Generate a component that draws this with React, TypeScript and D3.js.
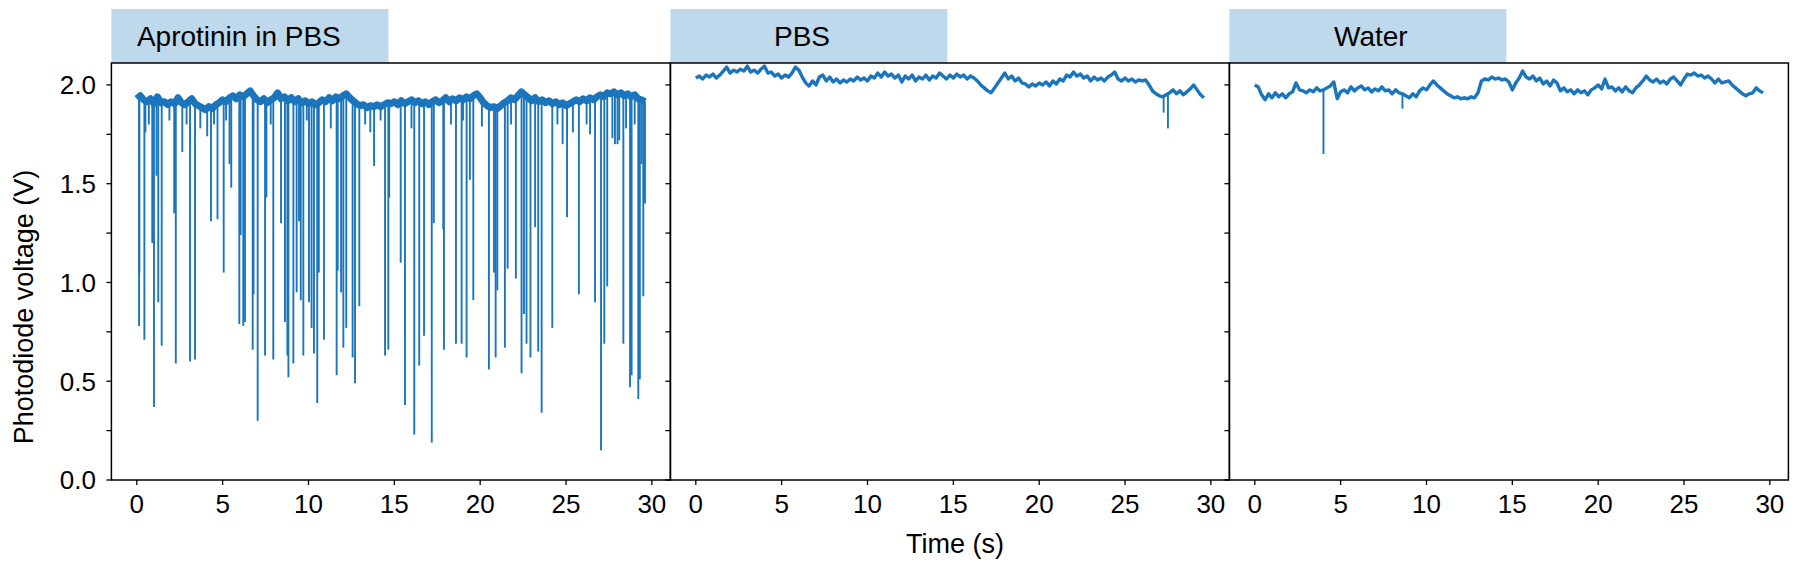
import React from 'react';
import * as d3 from 'd3';

const TIME_STEP = 0.2;
const panelTitles = ['Aprotinin in PBS', 'PBS', 'Water'];
const titleOffsets = [25.5, 103.6, 104.6];

const aprotininBase = [
  1.93, 1.945, 1.925, 1.915, 1.93, 1.905, 1.94, 1.91, 1.915, 1.9,
  1.915, 1.905, 1.935, 1.91, 1.9, 1.915, 1.93, 1.905, 1.895, 1.885,
  1.875, 1.89, 1.88, 1.9, 1.91, 1.925, 1.915, 1.935, 1.945, 1.93,
  1.95, 1.94, 1.955, 1.97, 1.945, 1.925, 1.915, 1.93, 1.91, 1.925,
  1.935, 1.96, 1.93, 1.94, 1.92, 1.935, 1.915, 1.93, 1.91, 1.92,
  1.905, 1.915, 1.9, 1.91, 1.925, 1.915, 1.935, 1.92, 1.94, 1.93,
  1.945, 1.955, 1.935, 1.92, 1.905, 1.895, 1.9, 1.885, 1.895, 1.89,
  1.9, 1.89, 1.9, 1.91, 1.905, 1.915, 1.9, 1.92, 1.905, 1.915,
  1.925, 1.91, 1.92, 1.905, 1.915, 1.9, 1.915, 1.925, 1.91, 1.92,
  1.935, 1.915, 1.93, 1.92, 1.935, 1.925, 1.94, 1.93, 1.945, 1.955,
  1.935, 1.91, 1.895, 1.885, 1.89, 1.88, 1.895, 1.91, 1.92, 1.935,
  1.925, 1.945, 1.965, 1.95, 1.935, 1.92, 1.935, 1.915, 1.925, 1.91,
  1.92, 1.905, 1.915, 1.9, 1.91, 1.895, 1.905, 1.915, 1.925, 1.915,
  1.93, 1.92, 1.935, 1.925, 1.94, 1.95, 1.94, 1.96, 1.955, 1.965,
  1.95, 1.96, 1.945, 1.955, 1.94, 1.95, 1.93, 1.925, 1.915,
];

const aprotininSpikes: [number, number][] = [
  [0.13, 0.78], [0.15, 1.05], [0.44, 0.71], [0.5, 1.76], [0.9, 1.2], [1.0, 0.37],
  [1.15, 1.54], [1.25, 0.9], [1.45, 0.68], [2.18, 1.35], [2.27, 0.59], [2.65, 1.66],
  [3.1, 0.6], [3.39, 0.61], [4.32, 1.31], [4.7, 1.32], [5.06, 1.05], [5.4, 1.6],
  [5.5, 1.48], [5.97, 0.79], [6.05, 1.24], [6.2, 0.78], [6.3, 0.8], [6.75, 0.66],
  [6.8, 0.94], [7.04, 0.3], [7.47, 0.63], [7.55, 1.43], [7.95, 0.61], [8.4, 1.3],
  [8.63, 0.8], [8.77, 0.63], [8.83, 0.52], [9.12, 0.59], [9.31, 0.95], [9.45, 1.31],
  [9.55, 0.91], [9.7, 0.63], [10.03, 0.9], [10.18, 0.77], [10.32, 0.64], [10.51, 0.39],
  [10.6, 1.05], [10.9, 0.71], [11.64, 0.53], [11.7, 1.06], [11.9, 0.95], [12.03, 0.67],
  [12.2, 0.77], [12.57, 0.62], [12.71, 0.49], [12.96, 0.88], [13.82, 1.59], [14.46, 0.63],
  [14.65, 0.66], [14.7, 1.43], [15.37, 1.1], [15.62, 0.38], [16.16, 0.23], [16.45, 0.58],
  [16.73, 0.73], [17.18, 0.19], [17.3, 1.3], [17.85, 1.27], [17.89, 0.66], [18.59, 0.69],
  [18.92, 0.69], [19.21, 0.62], [19.4, 1.52], [19.6, 0.91], [20.51, 0.56], [20.8, 1.05],
  [20.9, 0.62], [21.0, 0.96], [21.44, 0.67], [21.6, 1.07], [22.08, 1.02], [22.41, 0.54],
  [22.55, 0.84], [22.7, 0.69], [22.93, 0.62], [23.2, 1.28], [23.38, 0.65], [23.58, 0.34],
  [24.2, 0.77], [24.8, 1.7], [25.06, 1.33], [25.75, 0.94], [26.69, 0.9], [27.04, 0.15],
  [27.23, 0.69], [27.4, 0.98], [27.85, 1.7], [28.0, 1.7], [28.34, 0.69], [28.73, 0.47],
  [28.82, 0.53], [29.21, 0.41], [29.3, 0.51], [29.4, 1.6], [29.5, 0.93], [29.6, 1.4],
  // shallow dips near the baseline
  [0.7, 1.8], [1.9, 1.82], [2.9, 1.8], [3.7, 1.78], [4.1, 1.74], [4.5, 1.8],
  [5.2, 1.82], [7.8, 1.8], [9.9, 1.82], [11.3, 1.78], [13.3, 1.8], [13.6, 1.76],
  [14.2, 1.82], [16.0, 1.78], [18.3, 1.8], [19.0, 1.82], [20.1, 1.79], [21.8, 1.8],
  [24.5, 1.8], [25.4, 1.76], [26.2, 1.8], [26.4, 1.75], [27.7, 1.73], [28.1, 1.72],
  [28.5, 1.78], [29.0, 1.8],
];

const pbsBase = [
  2.035, 2.045, 2.03, 2.05, 2.04, 2.055, 2.035, 2.05, 2.07, 2.09,
  2.06, 2.075, 2.065, 2.08, 2.07, 2.095, 2.065, 2.075, 2.06, 2.08,
  2.095, 2.06, 2.065, 2.045, 2.055, 2.035, 2.05, 2.04, 2.06, 2.09,
  2.075, 2.04, 2.01, 1.995, 2.02, 2.0, 2.04, 2.05, 2.02, 2.04,
  2.015, 2.03, 2.01, 2.025, 2.015, 2.03, 2.02, 2.04, 2.025, 2.035,
  2.02, 2.045, 2.035, 2.06, 2.04, 2.065, 2.045, 2.055, 2.035, 2.05,
  2.015, 2.045, 2.03, 2.05, 2.02, 2.04, 2.03, 2.05, 2.025, 2.045,
  2.035, 2.06, 2.045, 2.03, 2.05, 2.035, 2.055, 2.04, 2.05, 2.03,
  2.045, 2.035, 2.02, 2.0, 1.985, 1.97, 1.96, 1.985, 2.01, 2.035,
  2.06, 2.03, 2.045, 2.02, 2.035, 2.01, 2.005, 1.99, 2.005, 1.995,
  2.01, 2.0, 2.015, 1.995, 2.02, 2.005, 2.03, 2.02, 2.05, 2.04,
  2.065, 2.045, 2.055, 2.035, 2.045, 2.02, 2.04, 2.025, 2.035, 2.02,
  2.04, 2.05, 2.065, 2.03, 2.02, 2.035, 2.02, 2.03, 2.015, 2.025,
  2.02, 2.025, 2.0, 1.97, 1.955, 1.945, 1.94, 1.95, 1.96, 1.975,
  1.955, 1.97, 1.95, 1.965, 1.98, 2.0, 1.975, 1.95, 1.935,
];
const pbsSpikes: [number, number][] = [[27.25, 1.86], [27.5, 1.78]];

const waterBase = [
  2.0, 1.99, 1.95, 1.925, 1.955, 1.935, 1.96, 1.94, 1.955, 1.935,
  1.955, 1.965, 2.01, 1.975, 1.97, 1.96, 1.975, 1.965, 1.985, 1.97,
  1.975, 1.985, 1.995, 2.015, 1.93, 1.965, 1.975, 1.96, 1.99, 1.97,
  1.985, 1.995, 1.975, 1.985, 1.965, 1.98, 1.97, 1.99, 1.97, 1.975,
  1.955, 1.975, 1.96, 1.955, 1.945, 1.935, 1.955, 1.94, 1.97, 1.985,
  1.975, 2.0, 2.02, 2.0, 1.985, 1.97, 1.955, 1.945, 1.935, 1.94,
  1.93, 1.935, 1.93, 1.94, 1.935, 1.96, 2.02, 2.03, 2.025, 2.04,
  2.03, 2.035, 2.025, 2.03, 2.015, 1.975, 2.01, 2.035, 2.07, 2.04,
  2.03, 2.045, 2.02, 2.035, 2.005, 2.02, 1.995, 2.025, 2.01, 1.97,
  1.985, 1.965, 1.975, 1.955, 1.975, 1.96, 1.97, 1.95, 1.975, 1.985,
  2.0, 1.98, 2.03, 1.985, 1.99, 1.97, 1.985, 1.965, 1.99, 1.97,
  1.96, 1.985, 2.0, 2.02, 2.045, 2.025, 2.015, 2.03, 2.01, 2.02,
  2.005, 2.03, 2.04, 2.02, 2.0, 2.03, 2.055, 2.05, 2.06, 2.045,
  2.05, 2.035, 2.045, 2.03, 2.01, 2.03, 2.01, 2.015, 2.02, 2.0,
  1.985, 1.97, 1.955, 1.945, 1.955, 1.96, 1.985, 1.97, 1.96,
];
const waterSpikes: [number, number][] = [[4.0, 1.65], [8.6, 1.88]];

const panelBases = [aprotininBase, pbsBase, waterBase];
const panelSpikes = [aprotininSpikes, pbsSpikes, waterSpikes];
const baseWidths = [7, 3.4, 3.4];

const xTicks = [0, 5, 10, 15, 20, 25, 30];
const yTicks = [0, 0.25, 0.5, 0.75, 1.0, 1.25, 1.5, 1.75, 2.0];
const yTickLabels = [0, 0.5, 1.0, 1.5, 2.0];

const W = 1800;
const H = 571;
const PANEL_LEFT = [111.4, 670.4, 1229.4];
const PANEL_W = 559;
const TOP = 63;
const BOTTOM = 480;
const BLUE = '#1b75bc';
const HEADER = '#bed8ec';
const FONT = '"Liberation Sans", Arial, Helvetica, sans-serif';

export default function App() {
  const x = d3.scaleLinear().domain([-1.48, 31.08]).range([0, PANEL_W]);
  const y = d3.scaleLinear().domain([0, 2.111]).range([BOTTOM, TOP]);

  return (
    <svg
      width={W}
      height={H}
      style={{ position: 'absolute', left: 0, top: 0, display: 'block', background: '#fff' }}
      fontFamily={FONT}
    >
      {panelTitles.map((title, p) => {
        const left = PANEL_LEFT[p];
        const base = panelBases[p];
        const pts: [number, number][] = base.map((v, i) => [i * TIME_STEP, v]);
        const line = d3
          .line<[number, number]>()
          .x((d) => x(d[0]))
          .y((d) => y(d[1]));
        const baseAt = (t: number) => {
          const i = Math.min(base.length - 2, Math.max(0, Math.floor(t / TIME_STEP)));
          const f = (t - i * TIME_STEP) / TIME_STEP;
          return base[i] * (1 - f) + base[i + 1] * f;
        };
        return (
          <g key={title} transform={`translate(${left},0)`}>
            <rect x={0} y={9} width={277} height={TOP - 9} fill={HEADER} />
            <text x={titleOffsets[p]} y={46} fontSize={28} fill="#000">
              {title}
            </text>
            <g>
              {panelSpikes[p].map(([t, d], i) => (
                <line
                  key={i}
                  x1={x(t)}
                  x2={x(t)}
                  y1={y(baseAt(t))}
                  y2={y(d)}
                  stroke={BLUE}
                  strokeWidth={1.9}
                />
              ))}
              <path
                d={line(pts) || ''}
                fill="none"
                stroke={BLUE}
                strokeWidth={baseWidths[p]}
                strokeLinejoin="round"
              />
            </g>
            <rect
              x={0}
              y={TOP}
              width={PANEL_W}
              height={BOTTOM - TOP}
              fill="none"
              stroke="#000"
              strokeWidth={1.5}
            />
            {xTicks.map((t) => (
              <g key={t}>
                <line x1={x(t)} x2={x(t)} y1={BOTTOM} y2={BOTTOM + 5} stroke="#000" strokeWidth={1.3} />
                <text x={x(t)} y={513} fontSize={26} textAnchor="middle" fill="#000">
                  {t}
                </text>
              </g>
            ))}
            {yTicks.map((v) => (
              <line key={v} x1={-5} x2={0} y1={y(v)} y2={y(v)} stroke="#000" strokeWidth={1.3} />
            ))}
            {p === 0 &&
              yTickLabels.map((v) => (
                <text key={v} x={-15.5} y={y(v) + 9.3} fontSize={26} textAnchor="end" fill="#000">
                  {v.toFixed(1)}
                </text>
              ))}
          </g>
        );
      })}
      <text x={955} y={553} fontSize={27} textAnchor="middle" fill="#000">
        Time (s)
      </text>
      <text transform="translate(33,307) rotate(-90)" fontSize={27} textAnchor="middle" fill="#000">
        Photodiode voltage (V)
      </text>
    </svg>
  );
}
